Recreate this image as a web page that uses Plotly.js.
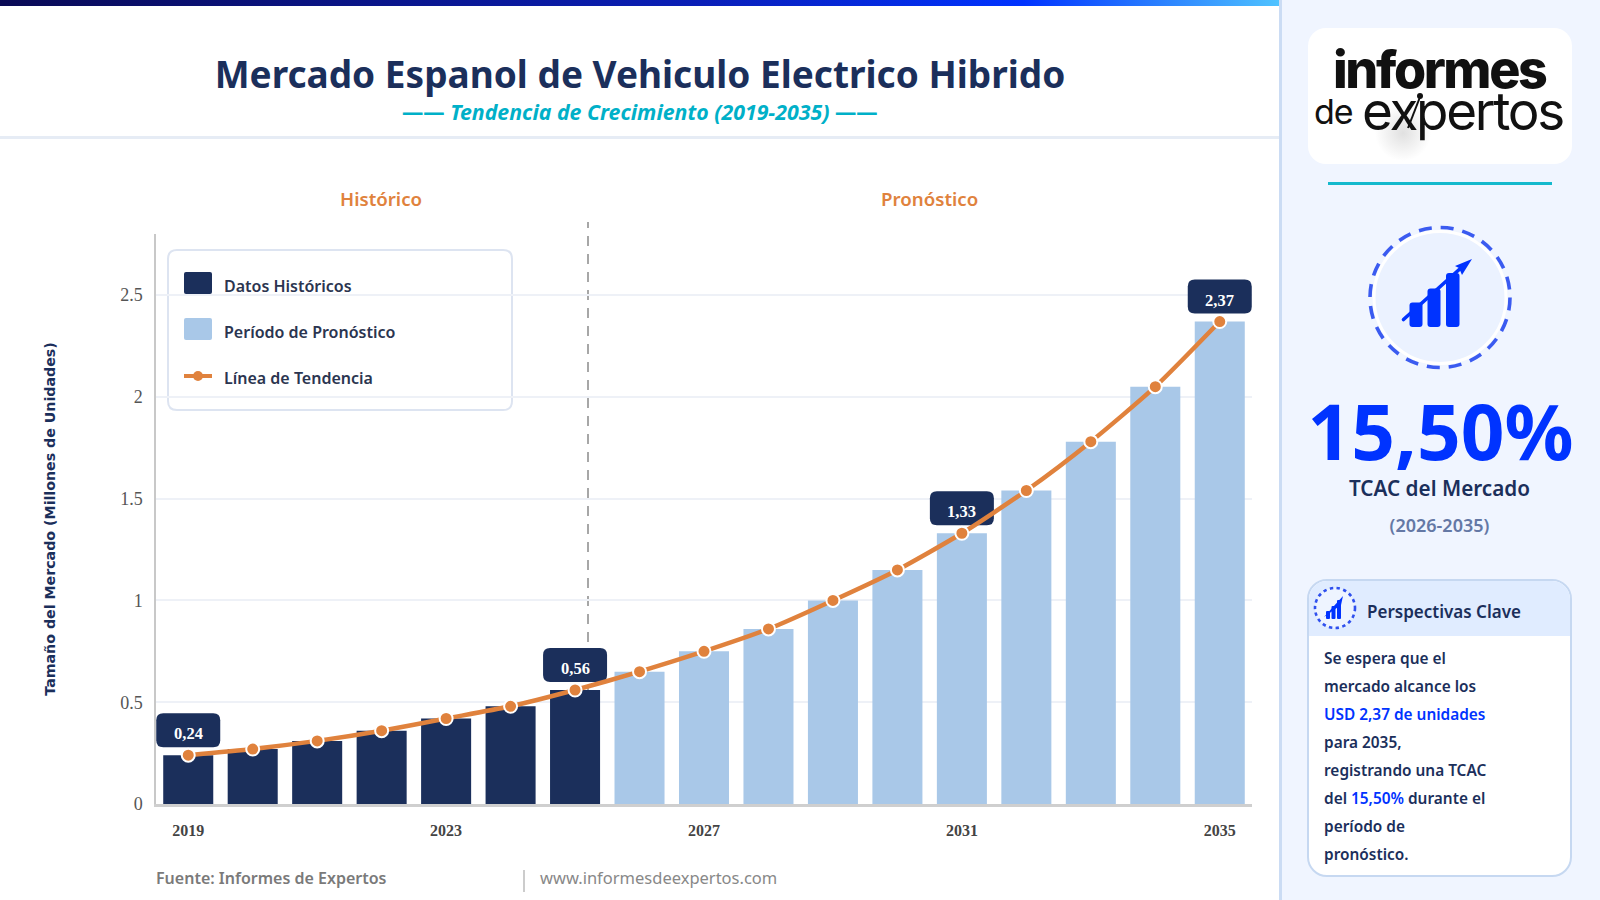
<!DOCTYPE html>
<html lang="es">
<head>
<meta charset="utf-8">
<script src="https://cdn.plot.ly/plotly-3.0.1.min.js"></script>
<style>
html,body{margin:0;padding:0;background:#fff;width:1600px;height:900px;overflow:hidden;font-family:"Noto Sans",sans-serif;}
#stage{position:relative;width:1600px;height:900px;overflow:hidden;background:#fff;}
#topbar{position:absolute;left:0;top:0;width:1279px;height:6px;background:linear-gradient(90deg,#0a0a55 0%,#0a1fb8 55%,#0033ff 80%,#4fc3ff 100%);}
#rule{position:absolute;left:0;top:136px;width:1279px;height:3px;background:#e6ecf5;}
#side{position:absolute;left:1279px;top:0;width:321px;height:900px;background:#f0f5ff;border-left:3px solid #cbdcf4;box-sizing:border-box;}
#chart{position:absolute;left:0;top:0;width:1600px;height:900px;}
.abs{position:absolute;}
#logo{left:1308px;top:28px;width:264px;height:136px;border-radius:18px;background:#fff;overflow:hidden;}
#cyan{left:1328px;top:182px;width:224px;height:3px;background:#14b9cd;}
#cagr{left:1280px;width:321px;top:390px;text-align:center;font-weight:700;font-size:76.5px;line-height:80px;color:#0033ff;}
#cagrl{left:1279px;width:321px;top:472px;text-align:center;font-weight:600;font-size:20.7px;line-height:32px;color:#1b2f5b;}
#cagry{left:1279px;width:321px;top:511px;text-align:center;font-weight:600;font-size:18px;line-height:28px;color:#6478a5;}
#card{left:1307px;top:579px;width:265px;height:298px;border-radius:20px;background:#fff;border:2px solid #c6d8f1;box-sizing:border-box;overflow:hidden;}
#cardh{position:absolute;left:0;top:0;width:100%;height:55px;background:#e0ecff;}
#cardt{position:absolute;left:58px;top:17px;font-weight:600;font-size:17px;line-height:28px;color:#1b2f5b;white-space:nowrap;}
#cardb{position:absolute;left:15px;top:64px;font-weight:600;font-size:15.4px;line-height:28px;color:#1b2f5b;white-space:nowrap;}
#cardb b{font-weight:600;color:#0033ff;}
#sep{left:523px;top:870px;width:2px;height:22px;background:#ccc;}
svg.abs{overflow:visible;}
</style>
</head>
<body>
<div id="stage">
  <div id="topbar"></div>
  <div id="rule"></div>
  <div id="side"></div>
  <div id="sep" class="abs"></div>
  <div id="chart"></div>

  <div id="logo" class="abs">
    <svg width="264" height="136" style="position:absolute;left:0;top:0">
      <defs><radialGradient id="sh"><stop offset="0" stop-color="#999" stop-opacity=".3"/><stop offset="1" stop-color="#999" stop-opacity="0"/></radialGradient></defs>
      <circle cx="95" cy="105" r="28" fill="url(#sh)"/>
      <text x="25" y="60" font-family="Inter" font-weight="800" font-size="52" letter-spacing="-2.4" fill="#111">informes</text>
      <text x="6" y="96" font-family="Inter" font-weight="400" font-size="34" letter-spacing="-1" fill="#111">de</text>
      <text x="54" y="102" font-family="Inter" font-weight="400" font-size="53" letter-spacing="-2.3" fill="#111">expertos</text>
      <line x1="100" y1="100" x2="112" y2="69" stroke="#111" stroke-width="2"/>
      <circle cx="112" cy="68" r="3" fill="#111"/>
    </svg>
  </div>
  <div id="cyan" class="abs"></div>

  <svg class="abs" style="left:0;top:0" width="1600" height="900">
    <circle cx="1440" cy="297.5" r="66" fill="#ebf2ff" stroke="#ffffff" stroke-width="3"/>
    <circle cx="1440" cy="297.5" r="70" fill="none" stroke="#3b5bf0" stroke-width="3.6" stroke-dasharray="13 9"/>
    <g fill="#0033ff">
      <rect x="1409.5" y="302.5" width="13" height="24.5" rx="3"/>
      <rect x="1427.5" y="288.5" width="13" height="38.5" rx="3"/>
      <rect x="1446" y="273" width="13.5" height="54" rx="3"/>
      <path d="M1455 266 L1472 259 L1462 275 L1459 268 Z"/>
    </g>
    <line x1="1403.5" y1="319.5" x2="1462" y2="267" stroke="#0033ff" stroke-width="3.6" stroke-linecap="round"/>
  </svg>

  <div id="cagr" class="abs">15,50%</div>
  <div id="cagrl" class="abs">TCAC del Mercado</div>
  <div id="cagry" class="abs">(2026-2035)</div>

  <div id="card" class="abs">
    <div id="cardh"></div>
    <svg width="60" height="56" style="position:absolute;left:0;top:0">
      <circle cx="26" cy="27" r="20" fill="#eef4ff" stroke="#2f50ee" stroke-width="2.6" stroke-dasharray="3.4 3.4"/>
      <g fill="#0033ff">
        <rect x="17" y="30" width="4" height="8" rx="1"/>
        <rect x="22.5" y="25" width="4" height="13" rx="1"/>
        <rect x="28" y="19" width="4" height="19" rx="1"/>
        <path d="M15 36 L34 15 L32 24 Z"/>
      </g>
    </svg>
    <div id="cardt">Perspectivas Clave</div>
    <div id="cardb">Se espera que el<br>mercado alcance los<br><b>USD 2,37 de unidades</b><br>para 2035,<br>registrando una TCAC<br>del <b>15,50%</b> durante el<br>período de<br>pronóstico.</div>
  </div>
</div>

<script>
// ---- data ----
const years = [2019,2020,2021,2022,2023,2024,2025,2026,2027,2028,2029,2030,2031,2032,2033,2034,2035];
const marketSize = [0.24,0.27,0.31,0.36,0.42,0.48,0.56,0.65,0.75,0.86,1.00,1.15,1.33,1.54,1.78,2.05,2.37];
const lastHistoricalYear = 2025;
const calloutYears = [2019,2025,2031,2035];
const xTickYears = [2019,2023,2027,2031,2035];
const yTickValues = [0,0.5,1,1.5,2,2.5];
const yTickLabels = ['0','0.5','1','1.5','2','2.5'];
const legendNames = ['Datos Históricos','Período de Pronóstico','Línea de Tendencia'];
const NAVY='#1b2f5b', LIGHT='#a9c8e8', ORANGE='#e0823d';

const barColors = years.map(y => y <= lastHistoricalYear ? NAVY : LIGHT);
const PL=156, PT=234, PR=1252, PB=804;
const px = v => (v-PL)/(PR-PL);
const py = v => (PB-v)/(PB-PT);
const fmt = v => v.toFixed(2).replace('.',',');

function rr(x0,y0,x1,y1,r){ // y up, pixels
  return `M${x0+r},${y0} L${x1-r},${y0} Q${x1},${y0} ${x1},${y0+r} L${x1},${y1-r} Q${x1},${y1} ${x1-r},${y1} L${x0+r},${y1} Q${x0},${y1} ${x0},${y1-r} L${x0},${y0+r} Q${x0},${y0} ${x0+r},${y0} Z`;
}
function panel(x0,yTop,x1,yBot,r,style){
  return Object.assign({type:'path',xref:'paper',yref:'paper',xsizemode:'pixel',ysizemode:'pixel',xanchor:0,yanchor:0,
    path:rr(x0-PL,PB-yBot,x1-PL,PB-yTop,r),layer:'above'},style);
}

const shapes = [
  {type:'line',xref:'paper',yref:'paper',x0:px(588),x1:px(588),y0:0,y1:py(222),layer:'between',
   line:{color:'#8a8a8a',width:1.5,dash:'10px,8px'}},
  ...calloutYears.map(y=>({type:'path',xref:'x',yref:'y',xsizemode:'pixel',ysizemode:'pixel',
    xanchor:y,yanchor:marketSize[years.indexOf(y)],path:rr(-32,8,32,42,7),
    fillcolor:NAVY,line:{width:0},layer:'between'})),
  panel(168,250,512,410,9,{fillcolor:'#fff',line:{color:'#dde4f1',width:2},layer:'between'}),
  panel(184,272,212,294,2,{fillcolor:NAVY,line:{width:0}}),
  panel(184,318,212,340,2,{fillcolor:LIGHT,line:{width:0}}),
  {type:'line',xref:'paper',yref:'paper',x0:px(184),x1:px(212),y0:py(376),y1:py(376),layer:'above',line:{color:ORANGE,width:4}},
  {type:'circle',xref:'paper',yref:'paper',xsizemode:'pixel',ysizemode:'pixel',xanchor:px(198),yanchor:py(376),x0:-5,x1:5,y0:-5,y1:5,layer:'above',fillcolor:ORANGE,line:{width:0}}
];

const F='"Noto Sans", sans-serif', S='"Liberation Serif", serif';
const pap=(x,y,text,font,xanchor='center')=>({xref:'paper',yref:'paper',x:px(x),y:py(y),text,showarrow:false,xanchor,yanchor:'middle',font,borderpad:0});
const annotations = [
  pap(640,111,'—— <i>Tendencia de Crecimiento (2019-2035)</i> ——',{family:F,size:21.3,weight:700,color:'#00b0c8'}),
  pap(381,198,'Histórico',{family:F,size:18.7,weight:600,color:ORANGE}),
  pap(929.5,198,'Pronóstico',{family:F,size:18.7,weight:600,color:ORANGE}),
  pap(223,286,legendNames[0],{family:F,size:16,weight:600,color:'#2b3550'},'left'),
  pap(223,332,legendNames[1],{family:F,size:16,weight:600,color:'#2b3550'},'left'),
  pap(223,378,legendNames[2],{family:F,size:16,weight:600,color:'#2b3550'},'left'),
  pap(155,878,'Fuente: Informes de Expertos',{family:F,size:16,weight:600,color:'#7a7a7a'},'left'),
  pap(539,877,'www.informesdeexpertos.com',{family:F,size:16.5,color:'#888'},'left'),
  ...calloutYears.map(y=>({xref:'x',yref:'y',x:y,y:marketSize[years.indexOf(y)],yshift:21.5,text:fmt(marketSize[years.indexOf(y)]),
    showarrow:false,xanchor:'center',yanchor:'middle',font:{family:S,size:16.5,weight:700,color:'#fff'}}))
];

const traces = [
  {type:'bar',x:years,y:marketSize,name:'Tamaño del Mercado',marker:{color:barColors,line:{width:0}},width:0.776,showlegend:false,hoverinfo:'x+y'},
  {type:'scatter',mode:'lines+markers',x:years,y:marketSize,name:legendNames[2],showlegend:false,
   line:{color:ORANGE,width:4.5,shape:'spline',smoothing:0.6},
   marker:{color:ORANGE,size:13,line:{color:'#fff',width:2}},cliponaxis:false}
];

const layout = {
  width:1600,height:900,autosize:false,showlegend:false,
  paper_bgcolor:'rgba(0,0,0,0)',plot_bgcolor:'rgba(0,0,0,0)',
  margin:{l:PL,r:1600-PR,t:PT,b:900-PB,pad:0},
  title:{text:'Mercado Espanol de Vehiculo Electrico Hibrido',xref:'container',yref:'container',x:640/1600,y:1-75/900,xanchor:'center',yanchor:'middle',
    font:{family:F,size:37,weight:700,color:NAVY}},
  xaxis:{range:[2018.5,2035.5],tickmode:'array',tickvals:xTickYears,ticktext:xTickYears.map(String),showgrid:false,zeroline:false,
    showline:true,linecolor:'#cfcfcf',linewidth:3,ticks:'',ticklabelstandoff:10,tickfont:{family:S,size:16,weight:700,color:'#444'}},
  yaxis:{range:[0,2.8],tickmode:'array',tickvals:yTickValues,ticktext:yTickLabels,gridcolor:'#eef1f7',gridwidth:2,zeroline:false,
    showline:true,linecolor:'#c8c8c8',linewidth:1.5,ticks:'',ticklabelstandoff:8,tickfont:{family:S,size:18,color:'#555'},
    title:{text:'Tamaño del Mercado (Millones de Unidades)',standoff:61,font:{family:'"DejaVu Sans", sans-serif',size:14.2,weight:700,color:NAVY}}},
  shapes,annotations
};
Plotly.newPlot('chart',traces,layout,{displayModeBar:false,responsive:false});
</script>
</body>
</html>
